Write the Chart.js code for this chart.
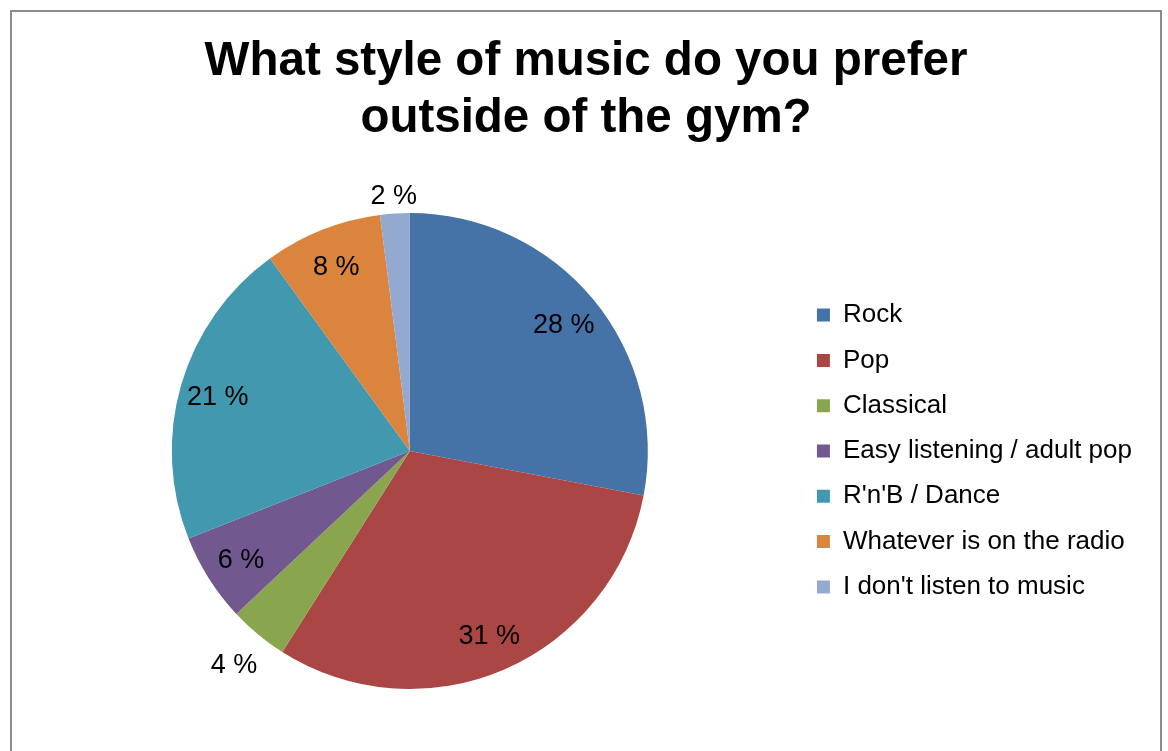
<!DOCTYPE html>
<html>
<head>
<meta charset="utf-8">
<script src="https://cdn.jsdelivr.net/npm/chart.js@4.4.1/dist/chart.umd.min.js"></script>
<style>
  html, body { margin: 0; padding: 0; background: #fff; }
  #wrap { position: relative; width: 1168px; height: 751px; overflow: hidden; }
  #frame {
    position: absolute; left: 10px; top: 10px; width: 1152px; height: 800px;
    border: 2px solid #8c8c8c; box-sizing: border-box; pointer-events: none;
  }
  canvas { position: absolute; left: 0; top: 0; }
</style>
</head>
<body>
<div id="wrap">
  <canvas id="chart" width="1168" height="751"></canvas>
  <div id="frame"></div>
</div>
<script>
// Preferencia musical fuera del gimnasio (pie estilo Excel)
const categories = [
  'Rock', 'Pop', 'Classical', 'Easy listening / adult pop',
  "R'n'B / Dance", 'Whatever is on the radio', "I don't listen to music"
];
const shares = [28, 31, 4, 6, 21, 8, 2];
const sliceColors = ['#4572A7', '#AA4643', '#89A54E', '#71588F', '#4198AF', '#DB843D', '#93A9CF'];
const titleLines = ['What style of music do you prefer', 'outside of the gym?'];

const fontFamily = '"Liberation Sans", Arial, sans-serif';

// Título centrado sobre todo el marco (no sólo sobre el área del pie)
const frameTitle = {
  id: 'frameTitle',
  afterDraw(chart) {
    const ctx = chart.ctx;
    ctx.save();
    ctx.font = `bold 47.5px ${fontFamily}`;
    ctx.fillStyle = '#000';
    ctx.textAlign = 'center';
    ctx.textBaseline = 'alphabetic';
    titleLines.forEach((line, i) => ctx.fillText(line, 586, 75 + i * 57));
    ctx.restore();
  }
};

// Etiquetas "NN %": dentro del sector, o fuera si el sector es pequeño
const pctLabels = {
  id: 'pctLabels',
  afterDatasetsDraw(chart) {
    const ctx = chart.ctx;
    const meta = chart.getDatasetMeta(0);
    ctx.save();
    ctx.font = `27px ${fontFamily}`;
    ctx.fillStyle = '#000';
    ctx.textAlign = 'center';
    ctx.textBaseline = 'middle';
    meta.data.forEach((arc, i) => {
      const { startAngle, endAngle, outerRadius, x, y } = arc.getProps(['startAngle', 'endAngle', 'outerRadius', 'x', 'y'], true);
      const mid = (startAngle + endAngle) / 2;
      const text = `${shares[i]} %`;
      const c = Math.cos(mid), s = Math.sin(mid);
      let d;
      if (shares[i] < 5) {
        const w = ctx.measureText(text).width;
        d = outerRadius + 17 + Math.abs(c) * w * 0.7;
      } else {
        d = outerRadius * 0.84;
      }
      ctx.fillText(text, x + c * d, y + s * d + 2);
    });
    ctx.restore();
  }
};

new Chart(document.getElementById('chart'), {
  type: 'pie',
  data: {
    labels: categories,
    datasets: [{
      data: shares,
      backgroundColor: sliceColors,
      borderWidth: 0,
    }],
  },
  options: {
    responsive: false,
    animation: false,
    layout: { padding: { left: 22, right: 26, top: 213, bottom: 62 } },
    plugins: {
      title: { display: false },
      legend: {
        position: 'right',
        fullSize: false,
        labels: {
          color: '#000',
          font: { family: fontFamily, size: 26 },
          boxWidth: 13,
          boxHeight: 13,
          padding: 19.3,
        },
      },
      tooltip: { enabled: false },
    },
  },
  plugins: [pctLabels, frameTitle],
});
</script>
</body>
</html>
